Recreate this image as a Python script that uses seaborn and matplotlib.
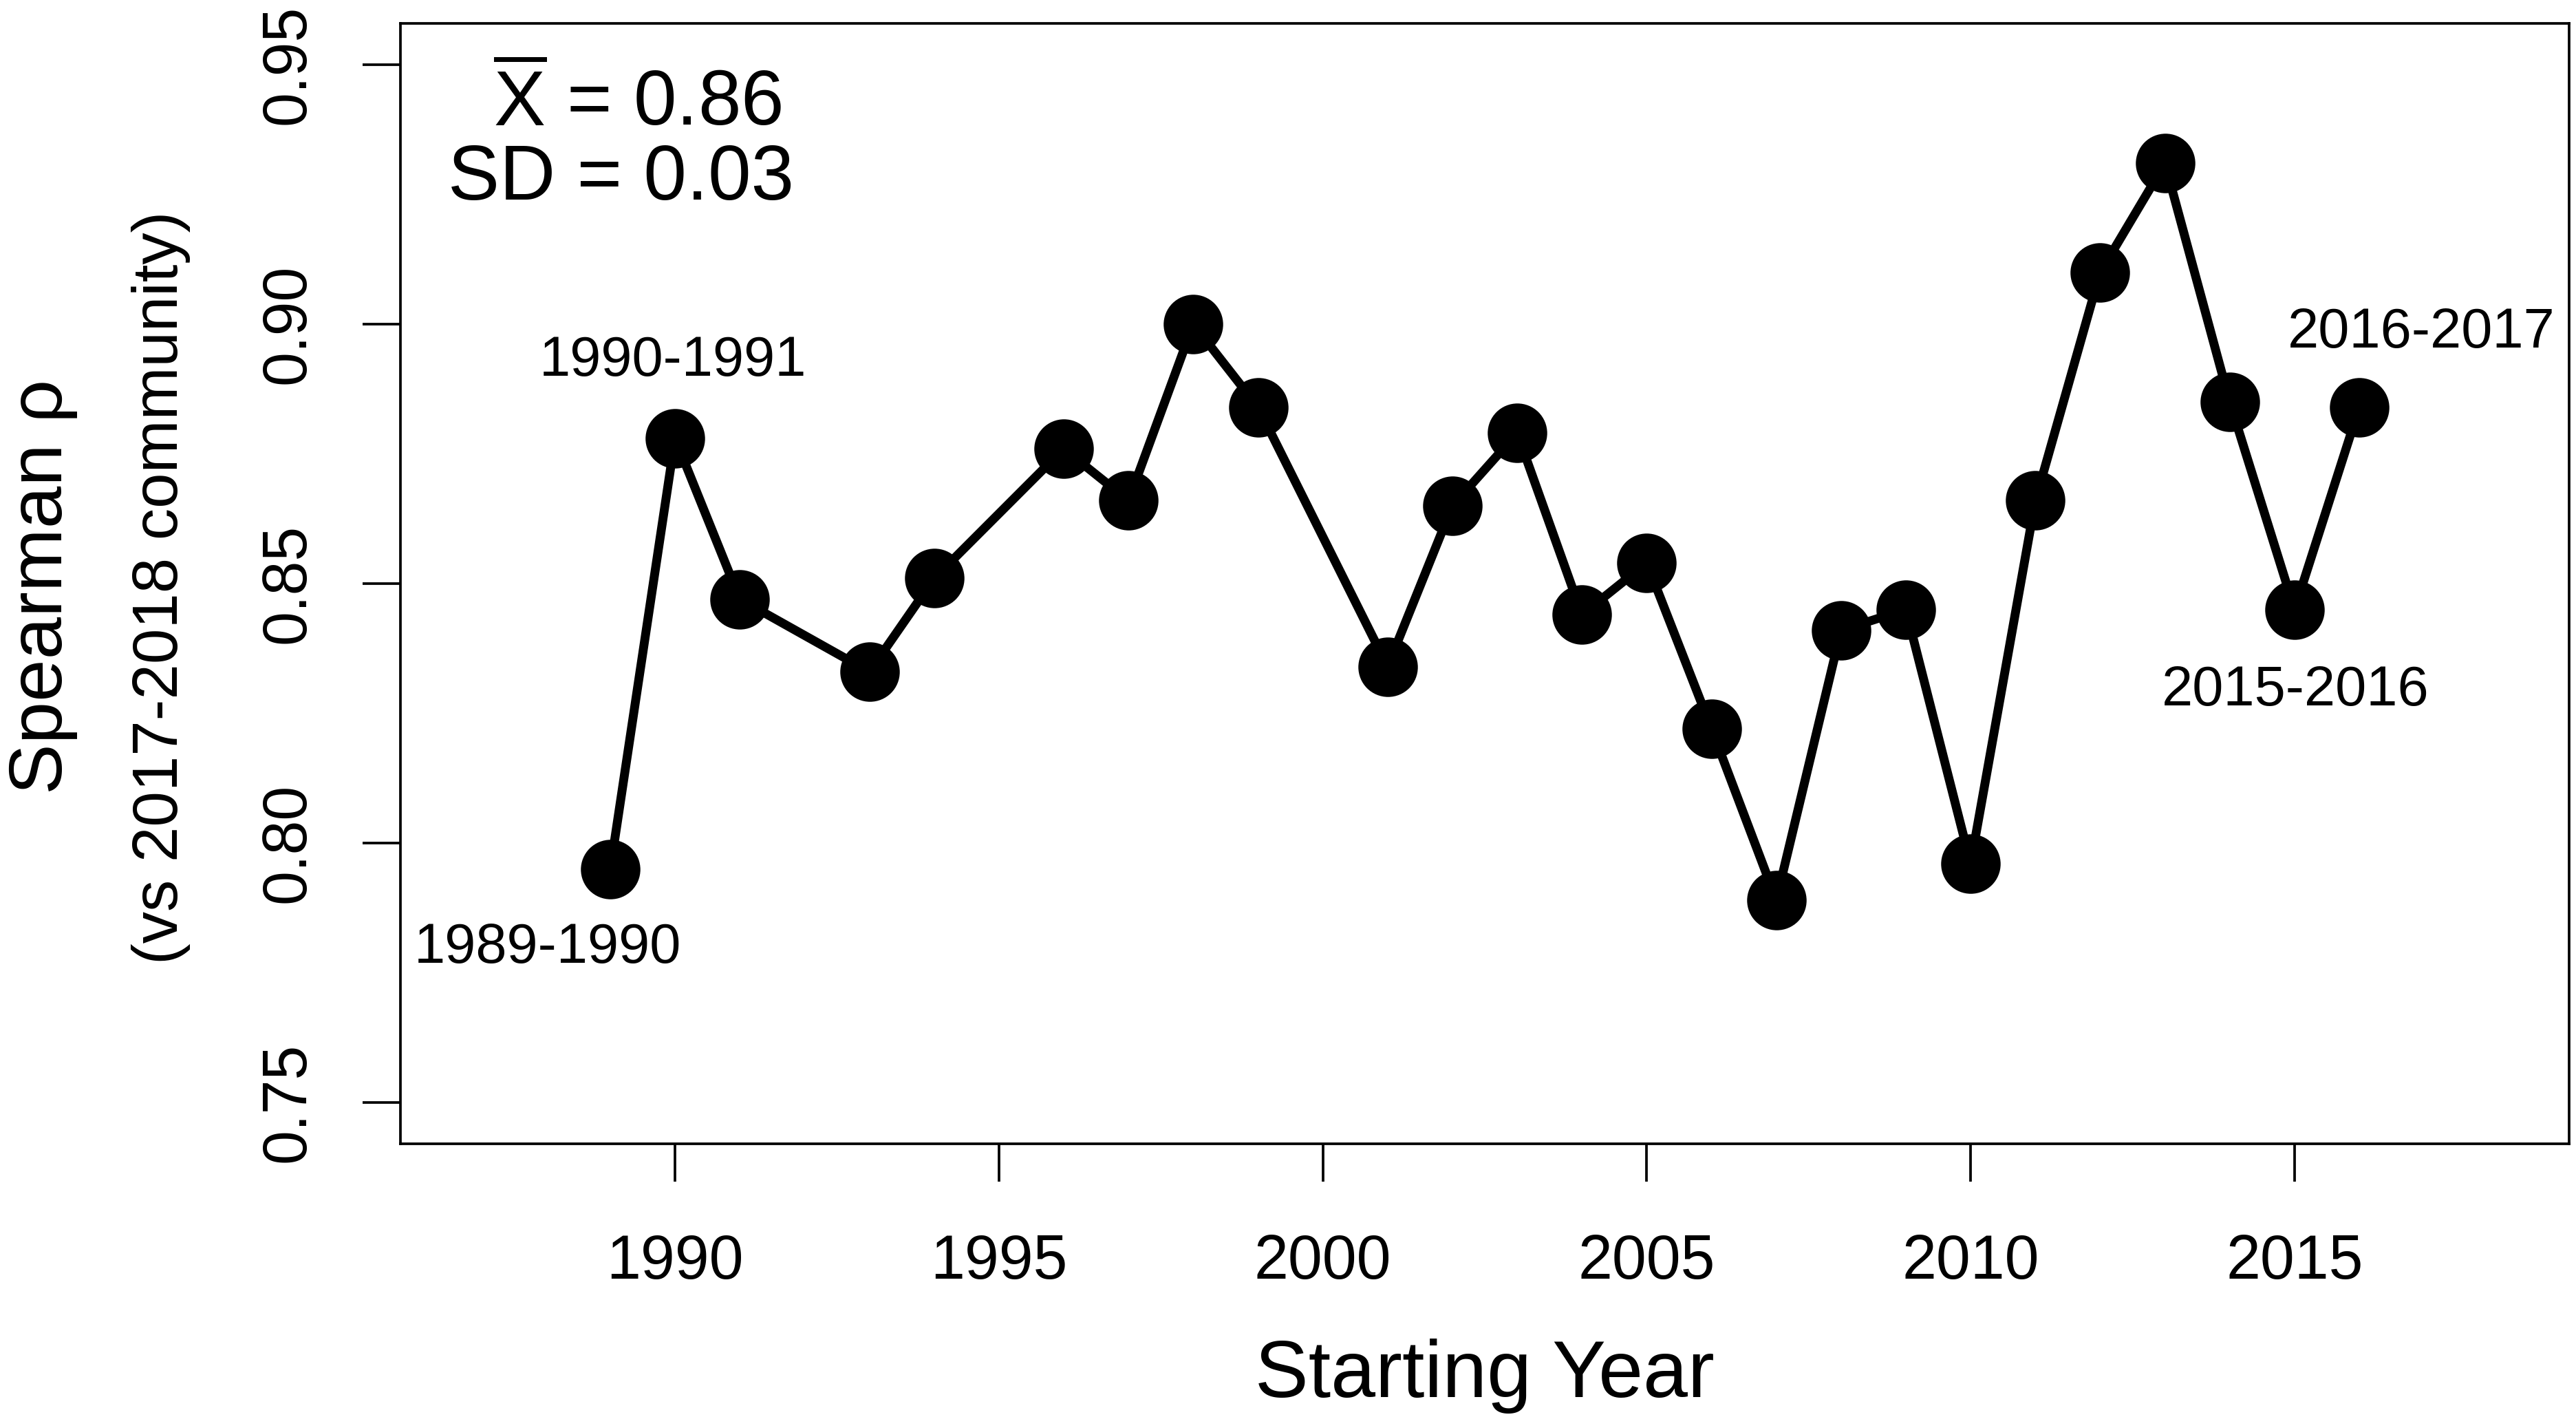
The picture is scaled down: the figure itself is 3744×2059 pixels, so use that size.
import numpy as np
import pandas as pd
import matplotlib
matplotlib.use("Agg")
import matplotlib.pyplot as plt
import seaborn as sns

# data
years = [1989, 1990, 1991, 1993, 1994, 1996, 1997, 1998, 1999, 2001, 2002, 2003, 2004,
         2005, 2006, 2007, 2008, 2009, 2010, 2011, 2012, 2013, 2014, 2015, 2016]
rho = [0.795, 0.878, 0.847, 0.833, 0.851, 0.876, 0.866, 0.900, 0.884, 0.834, 0.865, 0.879, 0.844,
       0.854, 0.822, 0.789, 0.841, 0.845, 0.796, 0.866, 0.910, 0.931, 0.885, 0.845, 0.884]

x_ticks = [1990, 1995, 2000, 2005, 2010, 2015]
y_ticks = [0.75, 0.80, 0.85, 0.90, 0.95]
y_tick_labels = ["0.75", "0.80", "0.85", "0.90", "0.95"]

# season labels and where they sit
season_labels = ["1989-1990", "1990-1991", "2015-2016", "2016-2017"]
season_x = [1988.03, 1989.97, 2015.01, 2016.96]
season_y = [0.7797, 0.8929, 0.8293, 0.8983]

mean_text = r"$\overline{\mathrm{X}}$ = 0.86"
sd_text = "SD = 0.03"

df = pd.DataFrame({"year": years, "rho": rho})

sns.set_style("ticks")
plt.rcParams["font.family"] = ["Liberation Sans", "DejaVu Sans"]
plt.rcParams["mathtext.fontset"] = "custom"
plt.rcParams["mathtext.rm"] = "Liberation Sans"
plt.rcParams["mathtext.it"] = "Liberation Sans"
plt.rcParams["text.color"] = "black"
plt.rcParams["axes.labelcolor"] = "black"

fig, ax = plt.subplots(figsize=(3745 / 300, 2059 / 300), dpi=300)
fig.subplots_adjust(left=0.1554, right=0.9971, top=0.9835, bottom=0.1928)

sns.lineplot(data=df, x="year", y="rho", ax=ax, color="black", linewidth=3.1,
             marker="o", markersize=20, markeredgecolor="black", markerfacecolor="black")

ax.set_xlim(1985.76, 2019.24)
ax.set_ylim(0.742, 0.958)
ax.set_xticks(x_ticks)
ax.set_yticks(y_ticks)
ax.set_yticklabels(y_tick_labels, rotation=90, va="center")
ax.set_xlabel("")
ax.set_ylabel("")

for side in ["top", "right", "bottom", "left"]:
    ax.spines[side].set_visible(True)
    ax.spines[side].set_linewidth(0.9)
    ax.spines[side].set_color("black")

ax.tick_params(axis="both", direction="out", length=13.3, width=0.9, color="black",
               labelsize=21.5, labelcolor="black")
ax.tick_params(axis="x", pad=18)
ax.tick_params(axis="y", pad=15.5)

for lab, xx, yy in zip(season_labels, season_x, season_y):
    ax.text(xx, yy, lab, ha="center", va="center", fontsize=19.5, color="black")

ax.text(1989.42, 0.9384, mean_text, ha="center", va="baseline", fontsize=27, color="black")
ax.text(1989.16, 0.9240, sd_text, ha="center", va="baseline", fontsize=27, color="black")

# axis titles
fig.text(0.5762, 0.0141, "Starting Year", ha="center", va="baseline", fontsize=28,
         color="black")
fig.text(0.024, 0.5862, "Spearman \u03c1", rotation=90, rotation_mode="anchor",
         ha="center", va="baseline", fontsize=26.5, color="black")
fig.text(0.0689, 0.5852, "(vs 2017-2018 community)", rotation=90, rotation_mode="anchor",
         ha="center", va="baseline", fontsize=22.2, color="black")

fig.savefig("out.png", dpi=300, facecolor="white")
